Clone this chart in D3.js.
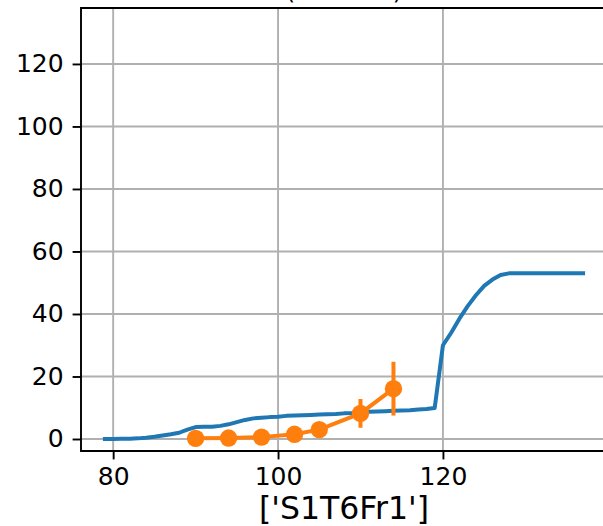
<!DOCTYPE html>
<html>
<head>
<meta charset="utf-8">
<script src="https://cdn.jsdelivr.net/npm/d3@7"></script>
<style>
  html, body { margin: 0; padding: 0; background: #fff; }
  svg { display: block; }
  text { font-family: "DejaVu Sans", sans-serif; fill: #000; }
</style>
</head>
<body>
<svg id="chart" width="603" height="526"></svg>
<script>
// ---- data ----
const modelX = [79,80,81,82,83,84,85,86,87,88,89,90,91,92,93,94,95,96,97,98,99,100,101,102,103,104,105,106,107,108,109,110,111,112,113,114,115,116,117,118,119,120,121,122,123,124,125,126,127,128,129,130,131,132,133,134,135,136,137];
const modelY = [0,0,0.05,0.1,0.2,0.4,0.7,1.1,1.5,2.0,3.0,3.8,3.9,3.9,4.2,4.7,5.4,6.1,6.6,6.8,7.0,7.1,7.4,7.5,7.6,7.7,7.8,7.9,8.0,8.2,8.3,8.5,8.7,8.8,8.9,9.0,9.1,9.2,9.4,9.6,9.9,30,34,38.5,42.5,46,49,51,52.5,53,53,53,53,53,53,53,53,53,53];
const obsX = [90,94,98,102,105,110,114];
const obsY = [0.2,0.3,0.6,1.5,3.0,8.2,16.1];
const obsErr = [0.2,0.3,0.5,1.0,1.5,4.6,8.6];
const xTicks = [80,100,120];
const yTicks = [0,20,40,60,80,100,120];
const xLabel = "['S1T6Fr1']";
const titleText = "(S1T6Fr1)";

// ---- layout ----
const svg = d3.select("#chart");
const L = 81, R = 607, T = 8, B = 451;
const x = d3.scaleLinear().domain([76.1, 139.9]).range([L, R]);
const y = d3.scaleLinear().domain([-3.84, 137.9]).range([B, T]);

// grid
const g = svg.append("g");
g.selectAll(".gx").data(xTicks).enter().append("line")
  .attr("x1", d => x(d)).attr("x2", d => x(d)).attr("y1", T).attr("y2", B)
  .attr("stroke", "#b0b0b0").attr("stroke-width", 1.9);
g.selectAll(".gy").data(yTicks).enter().append("line")
  .attr("x1", L).attr("x2", R).attr("y1", d => y(d)).attr("y2", d => y(d))
  .attr("stroke", "#b0b0b0").attr("stroke-width", 1.9);

// model line
const line = d3.line().x((d, i) => x(modelX[i])).y(d => y(d));
svg.append("path").datum(modelY).attr("d", line)
  .attr("fill", "none").attr("stroke", "#1f77b4").attr("stroke-width", 4)
  .attr("stroke-linejoin", "round").attr("stroke-linecap", "square");

// observations
const oline = d3.line().x((d, i) => x(obsX[i])).y(d => y(d));
svg.append("path").datum(obsY).attr("d", oline)
  .attr("fill", "none").attr("stroke", "#ff7f0e").attr("stroke-width", 4);
svg.selectAll(".err").data(obsY).enter().append("line")
  .attr("x1", (d, i) => x(obsX[i])).attr("x2", (d, i) => x(obsX[i]))
  .attr("y1", (d, i) => y(d - obsErr[i])).attr("y2", (d, i) => y(d + obsErr[i]))
  .attr("stroke", "#ff7f0e").attr("stroke-width", 4);
svg.selectAll(".pt").data(obsY).enter().append("circle")
  .attr("cx", (d, i) => x(obsX[i])).attr("cy", d => y(d)).attr("r", 8.7)
  .attr("fill", "#ff7f0e");

// spines (left, bottom, top; right is outside view)
svg.append("path")
  .attr("d", `M${R},${T}H${L}V${B}H${R}`)
  .attr("fill", "none").attr("stroke", "#000").attr("stroke-width", 1.9)
  .attr("stroke-linecap", "square");

// axes
const xAxis = d3.axisBottom(x).tickValues(xTicks).tickSize(8.4).tickPadding(7).tickFormat(d3.format("d"));
const xa = svg.append("g").attr("transform", `translate(0,${B})`).call(xAxis);
xa.select(".domain").remove();
xa.selectAll("line").attr("stroke", "#000").attr("stroke-width", 1.9);
xa.selectAll("text").attr("font-size", "25px").attr("font-family", "DejaVu Sans").attr("dy", "0.76em");

const yAxis = d3.axisLeft(y).tickValues(yTicks).tickSize(8.4).tickPadding(9).tickFormat(d3.format("d"));
const ya = svg.append("g").attr("transform", `translate(${L},0)`).call(yAxis);
ya.select(".domain").remove();
ya.selectAll("line").attr("stroke", "#000").attr("stroke-width", 1.9);
ya.selectAll("text").attr("font-size", "25px").attr("font-family", "DejaVu Sans");

// labels
svg.append("text").attr("x", (L + R) / 2).attr("y", 519)
  .attr("text-anchor", "middle").attr("font-size", "31.5px").text(xLabel);
svg.append("text").attr("x", (L + R) / 2).attr("y", -1)
  .attr("text-anchor", "middle").attr("font-size", "24px").text(titleText);
</script>
</body>
</html>
